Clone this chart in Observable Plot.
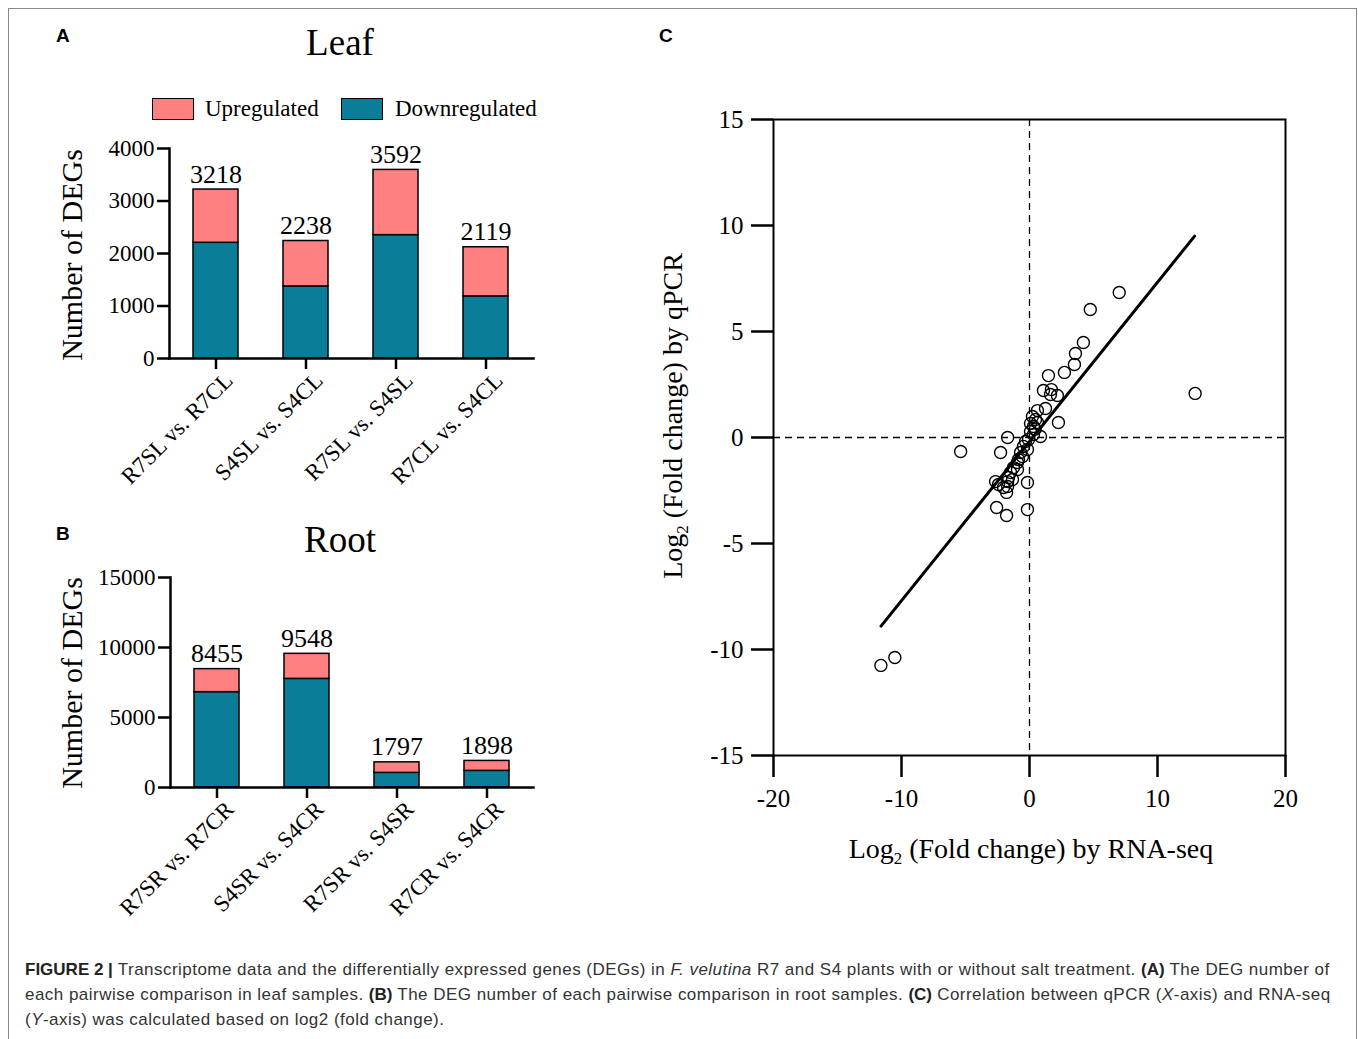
<!DOCTYPE html>
<html><head><meta charset="utf-8">
<script src="https://cdn.jsdelivr.net/npm/d3@7"></script>
<script src="https://cdn.jsdelivr.net/npm/@observablehq/plot@0.6"></script>
<style>
body{margin:0;background:#fff;}
#fig{position:relative;width:1358px;height:1039px;overflow:hidden;font-family:"Liberation Serif",serif;color:#000;}
.abs{position:absolute;white-space:nowrap;line-height:1;}
.plab{font-family:"Liberation Sans",Arial,sans-serif;font-weight:bold;font-size:19px;}
.ttl{font-size:37px;text-align:center;width:200px;}
.leg{font-size:23px;}
.sw{position:absolute;width:40px;height:20px;border:1.5px solid #000;}
.ylab{font-size:30px;transform:translate(-50%,-50%) rotate(-90deg);}
.cap{position:absolute;left:25px;top:957px;font-family:"Liberation Sans",Arial,sans-serif;font-size:17px;letter-spacing:0.47px;line-height:25px;color:#333;white-space:nowrap;}
.cap b{color:#222;letter-spacing:0;}
#frame{position:absolute;left:8px;top:8px;width:1347px;height:1040px;border:1px solid #8a8a8a;}
sub{font-size:60%;vertical-align:-0.35em;line-height:0;}
</style>
</head>
<body>
<div id="fig">
  <div id="frame"></div>
  <div class="abs plab" style="left:56px;top:26px">A</div>
  <div class="abs plab" style="left:56px;top:524px">B</div>
  <div class="abs plab" style="left:659px;top:26px">C</div>
  <div class="abs ttl" style="left:240px;top:24px">Leaf</div>
  <div class="abs ttl" style="left:240px;top:521px">Root</div>
  <div class="sw" style="left:152px;top:98px;background:#FF8080"></div>
  <div class="abs leg" style="left:205px;top:97px">Upregulated</div>
  <div class="sw" style="left:341px;top:98px;background:#0A7E98"></div>
  <div class="abs leg" style="left:395px;top:97px">Downregulated</div>
  <div class="abs ylab" style="left:72px;top:255px">Number of DEGs</div>
  <div class="abs ylab" style="left:72px;top:683px">Number of DEGs</div>
  <div class="abs ylab" style="left:673px;top:416px;font-size:28px">Log<sub>2</sub> (Fold change) by qPCR</div>
  <div class="abs" style="left:831px;top:835px;width:400px;text-align:center;font-size:28px">Log<sub>2</sub> (Fold change) by RNA-seq</div>
  <div id="pa" style="position:absolute;left:0;top:128px"></div>
  <div id="pb" style="position:absolute;left:0;top:557px"></div>
  <div id="pc" style="position:absolute;left:640px;top:89px"></div>
  <div class="cap"><b>FIGURE 2 |</b> Transcriptome data and the differentially expressed genes (DEGs) in <i>F. velutina</i> R7 and S4 plants with or without salt treatment. <b>(A)</b> The DEG number of<br>each pairwise comparison in leaf samples. <b>(B)</b> The DEG number of each pairwise comparison in root samples. <b>(C)</b> Correlation between qPCR (<i>X</i>-axis) and RNA-seq<br>(<i>Y</i>-axis) was calculated based on log2 (fold change).</div>
</div>
<script>
const TEAL = "#0A7E98", PINK = "#FF8080";
const typeNames = ["Downregulated", "Upregulated"];

// Panel A: leaf
const leafCats = ["R7SL vs. R7CL", "S4SL vs. S4CL", "R7SL vs. S4SL", "R7CL vs. S4CL"];
const leafDown = [2204, 1372, 2350, 1183];
const leafUp = [1014, 866, 1242, 936];
const leafTotal = [3218, 2238, 3592, 2119];
const leafTicks = [0, 1000, 2000, 3000, 4000];

// Panel B: root
const rootCats = ["R7SR vs. R7CR", "S4SR vs. S4CR", "R7SR vs. S4SR", "R7CR vs. S4CR"];
const rootDown = [6811, 7758, 1046, 1188];
const rootUp = [1644, 1790, 751, 710];
const rootTotal = [8455, 9548, 1797, 1898];
const rootTicks = [0, 5000, 10000, 15000];

// Panel C: scatter
const rnaSeq = [7.01, 4.75, 4.21, 3.59, 3.51, 2.73, 1.48, 1.09, 1.71, 1.64, 2.18, 1.25, 0.62, 0.23, 2.26, 0.08, 0.31, 0.62, 0.08, 0.31, -1.71, 0.86, -0.31, -0.47, -0.16, -2.26, -5.38, -0.70, -0.86, -0.94, -1.25, -0.94, -1.48, -1.64, -1.33, -1.71, -2.65, -2.42, -0.16, -1.71, -2.03, -1.79, -2.57, -1.79, -0.16, 12.94, -11.61, -10.52, 0.47, -0.08, -0.55, 0.45];
const qpcr = [6.84, 6.04, 4.48, 3.96, 3.44, 3.07, 2.92, 2.22, 2.26, 2.03, 1.98, 1.37, 1.27, 0.99, 0.71, 0.66, 0.52, 0.71, 0.28, 0.14, 0.0, 0.05, -0.19, -0.42, -0.57, -0.71, -0.66, -0.71, -1.04, -1.18, -1.42, -1.51, -1.65, -1.89, -1.98, -2.08, -2.08, -2.22, -2.12, -2.31, -2.36, -2.59, -3.30, -3.68, -3.40, 2.08, -10.75, -10.38, 0.85, -0.09, -0.90, 0.40];
const fitX = [-11.6, 12.9];
const fitY = [-8.9, 9.5];
const cXTicks = [-20, -10, 0, 10, 20];
const cYTicks = [-15, -10, -5, 0, 5, 10, 15];

function barPanel(cats, down, up, totals, yMax, yTicks, marginLeft) {
  const rows = [];
  cats.forEach((c, i) => rows.push({cat: c, type: typeNames[0], value: down[i]}));
  cats.forEach((c, i) => rows.push({cat: c, type: typeNames[1], value: up[i]}));
  const tot = cats.map((c, i) => ({cat: c, total: totals[i]}));
  return Plot.plot({
    width: 560, height: 380,
    marginLeft, marginRight: 27, marginTop: 20, marginBottom: 150,
    style: {fontFamily: "Liberation Serif", fontSize: "23px", color: "black", background: "transparent", overflow: "visible"},
    x: {type: "band", domain: cats, paddingInner: 0.495, paddingOuter: 0.2585, label: null},
    y: {domain: [0, yMax], label: null},
    color: {domain: typeNames, range: [TEAL, PINK]},
    marks: [
      Plot.barY(rows, {x: "cat", y: "value", fill: "type", stroke: "black", strokeWidth: 1.5}),
      Plot.text(tot, {x: "cat", y: "total", text: d => String(d.total), lineAnchor: "bottom", dy: -7, fontSize: 26}),
      Plot.axisY({ticks: yTicks, tickSize: 12, tickPadding: 3, strokeWidth: 2.5, fontSize: 23, tickFormat: d => String(d), label: null}),
      Plot.axisX({tickSize: 11, strokeWidth: 2.5, tickFormat: () => "", label: null}),
      Plot.axisX({tickSize: 0, tickRotate: -45, fontSize: 23, tickPadding: 4, dx: 13, dy: 14, label: null}),
      Plot.frame({anchor: "left", strokeWidth: 2.5}),
      Plot.frame({anchor: "bottom", strokeWidth: 2.5})
    ]
  });
}

document.getElementById("pa").append(barPanel(leafCats, leafDown, leafUp, leafTotal, 4000, leafTicks, 169));
document.getElementById("pb").append(barPanel(rootCats, rootDown, rootUp, rootTotal, 15000, rootTicks, 170));

const pts = rnaSeq.map((x, i) => ({x, y: qpcr[i]}));
const fit = fitX.map((x, i) => ({x, y: fitY[i]}));
document.getElementById("pc").append(Plot.plot({
  width: 680, height: 740,
  marginLeft: 133, marginRight: 35, marginTop: 30, marginBottom: 74,
  style: {fontFamily: "Liberation Serif", fontSize: "24px", color: "black", background: "transparent", overflow: "visible"},
  x: {domain: [-20, 20], label: null},
  y: {domain: [-15, 15], label: null},
  marks: [
    Plot.ruleX([0], {strokeDasharray: "7,5", strokeWidth: 1.3}),
    Plot.ruleY([0], {strokeDasharray: "7,5", strokeWidth: 1.3}),
    Plot.dot(pts, {x: "x", y: "y", r: 6, stroke: "black", strokeWidth: 1.4}),
    Plot.line(fit, {x: "x", y: "y", strokeWidth: 3, stroke: "black"}),
    Plot.frame({strokeWidth: 2}),
    Plot.axisX({ticks: cXTicks, tickSize: 22, tickPadding: 12, strokeWidth: 2.5, fontSize: 25, tickFormat: d => String(d), label: null}),
    Plot.axisY({ticks: cYTicks, tickSize: 22, tickPadding: 8, strokeWidth: 2.5, fontSize: 25, tickFormat: d => String(d), label: null})
  ]
}));
</script>
</body></html>
